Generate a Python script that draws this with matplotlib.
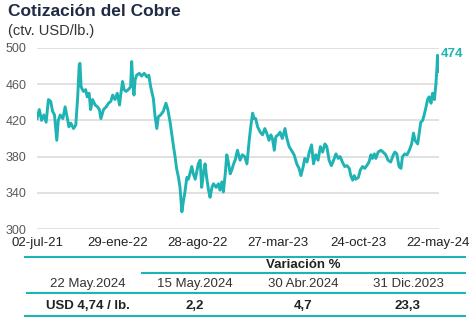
import numpy as np
import matplotlib.pyplot as plt
from matplotlib.lines import Line2D

plt.rcParams['font.family'] = ['Liberation Sans', 'DejaVu Sans']

# Copper price, US cents per lb; x = days since 02-jul-21
days = [0, 6, 12, 18, 24, 30, 36, 41, 46, 52, 56, 61, 68, 74, 78, 84, 89, 96, 102, 107,
        111, 113, 116, 122, 128, 132, 137, 141, 146, 153, 159, 164, 168, 175, 182, 188, 194, 199, 205, 211,
        217, 220, 225, 229, 234, 240, 246, 249, 252, 255, 258, 262, 269, 275, 282, 289, 294, 299, 306, 310,
        315, 319, 325, 332, 339, 344, 350, 354, 359, 363, 367, 372, 376, 381, 385, 389, 394, 398, 403, 407,
        411, 416, 420, 424, 429, 433, 438, 442, 446, 451, 455, 460, 464, 471, 477, 481, 486, 490, 495, 499,
        503, 508, 512, 517, 521, 527, 534, 540, 546, 552, 558, 562, 567, 571, 575, 580, 587, 593, 599, 604,
        610, 615, 619, 624, 628, 634, 639, 645, 652, 657, 663, 669, 676, 683, 689, 694, 700, 704, 710, 716,
        722, 727, 733, 739, 745, 751, 757, 762, 768, 774, 780, 786, 792, 797, 803, 809, 815, 821, 825, 830,
        834, 838, 845, 850, 856, 862, 867, 873, 878, 882, 887, 891, 897, 904, 910, 917, 923, 930, 937, 941,
        946, 952, 957, 961, 967, 973, 979, 985, 990, 994, 1001, 1005, 1009, 1014, 1018, 1023, 1027, 1031, 1036, 1040,
        1045, 1049, 1052, 1053, 1055]
price = [422, 432, 420, 426, 418, 443, 441, 430, 426, 398, 420, 426, 422, 435, 426, 413, 417, 411, 415, 446,
         481, 483, 457, 452, 454, 446, 450, 432, 443, 437, 435, 432, 422, 432, 435, 439, 441, 448, 443, 450,
         437, 448, 463, 454, 452, 454, 457, 485, 461, 448, 465, 470, 472, 469, 472, 468, 470, 457, 444, 426,
         411, 424, 426, 430, 439, 432, 418, 406, 391, 380, 367, 357, 346, 319, 331, 341, 357, 355, 363, 369,
         361, 355, 363, 372, 376, 346, 363, 372, 357, 343, 335, 346, 350, 346, 350, 343, 352, 341, 361, 382,
         374, 361, 365, 372, 376, 387, 376, 382, 380, 372, 398, 413, 428, 422, 422, 413, 407, 404, 411, 406,
         398, 404, 400, 387, 402, 404, 407, 400, 411, 400, 391, 387, 382, 372, 367, 359, 369, 378, 374, 385,
         393, 372, 382, 376, 391, 385, 394, 391, 376, 370, 376, 383, 378, 380, 374, 369, 370, 367, 359, 354,
         359, 355, 357, 365, 369, 367, 370, 374, 382, 378, 383, 378, 385, 387, 385, 382, 376, 374, 382, 385,
         383, 369, 367, 380, 383, 382, 387, 394, 406, 398, 394, 406, 418, 420, 426, 435, 443, 446, 439, 450,
         443, 461, 481, 492, 474]

tick_days = [0, 211, 422, 633, 844, 1055]
tick_labels = ['02-jul-21', '29-ene-22', '28-ago-22', '27-mar-23', '24-oct-23', '22-may-24']
y_ticks = [300, 340, 380, 420, 460, 500]

# Summary table
col_dates = ['22 May.2024', '15 May.2024', '30 Abr.2024', '31 Dic.2023']
row_values = ['USD 4,74 / lb.', '2,2', '4,7', '23,3']

teal = '#1fb3b3'
W, H = 474, 322

fig = plt.figure(figsize=(W / 100, H / 100), dpi=100)
ax = fig.add_axes([37 / W, 1 - 229 / H, 402 / W, 181 / H])
ax.plot(days, price, color=teal, lw=2.1, solid_joinstyle='round')
ax.set_xlim(0, 1057)
ax.set_ylim(300, 500)
ax.set_yticks(y_ticks)
ax.set_xticks(tick_days)
ax.set_xticklabels(tick_labels)
ax.tick_params(axis='y', length=0, pad=7.5, labelsize=9, labelcolor='#595959')
ax.tick_params(axis='x', length=0, pad=6, labelsize=9.5, labelcolor='#222222')
ax.grid(axis='y', color='#d9d9d9', lw=1.1)
ax.set_axisbelow(True)
for s in ax.spines.values():
    s.set_visible(False)
ax.annotate(f'{price[-1]}', xy=(days[-1], max(price)), xytext=(2, 1), textcoords='offset points',
            color=teal, fontsize=9.5, fontweight='bold', ha='left', va='center', annotation_clip=False)

fig.text(8 / W, 1 - 12 / H, 'Cotización del Cobre', fontsize=12.5, fontweight='bold',
         color='#1f2a44', va='center', ha='left')
fig.text(8 / W, 1 - 31 / H, '(ctv. USD/lb.)', fontsize=10.5, color='#333333', va='center', ha='left')

# table overlay in pixel coordinates
ov = fig.add_axes([0, 0, 1, 1], facecolor='none')
ov.set_xlim(0, W)
ov.set_ylim(H, 0)
ov.axis('off')
for y, x0 in [(257, 25), (273, 142), (293, 27), (316, 25)]:
    ov.add_line(Line2D([x0, 465], [y, y], color=teal, lw=1.5))
ov.text(303, 265, 'Variación %', fontsize=9.5, fontweight='bold', color='#222222', ha='center', va='center')
col_x = [88, 195, 303, 408]
for x, d, v in zip(col_x, col_dates, row_values):
    ov.text(x, 284, d, fontsize=9.5, color='#333333', ha='center', va='center')
    ov.text(x, 306, v, fontsize=9.5, fontweight='bold', color='#222222', ha='center', va='center')

fig.savefig('out.png', dpi=100)
